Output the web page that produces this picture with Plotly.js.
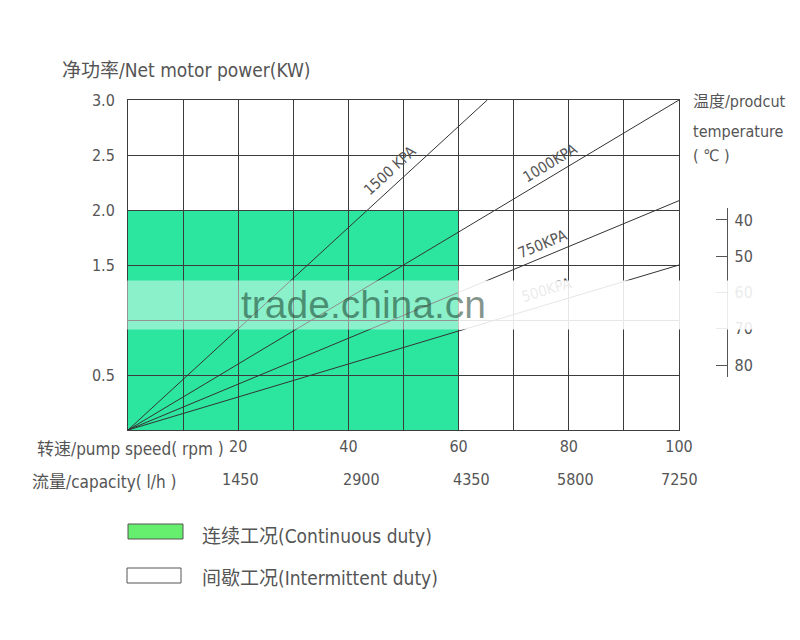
<!DOCTYPE html>
<html>
<head>
<meta charset="utf-8">
<script src="https://cdn.plot.ly/plotly-3.0.1.min.js"></script>
<style>html,body{margin:0;padding:0;background:#fff;}#chart{width:800px;height:640px;}</style>
</head>
<body>
<div id="chart"></div>
<script>
// ---- data ----
const speedTicks = [20, 40, 60, 80, 100];
const speedTickText = ['20', '40', '60', '80', '100'];
const capacityTickText = ['1450', '2900', '4350', '5800', '7250'];
const powerTicks = [0.5, 1.5, 2.0, 2.5, 3.0];
const powerTickText = ['0.5', '1.5', '2.0', '2.5', '3.0'];
const tempTicks = [40, 50, 60, 70, 80];
const tempAxisEnds = [36.7, 83.3];
const pressureLabels = ['1500 KPA', '1000KPA', '750KPA', '500KPA'];
const lineEndSpeed = [65.2, 100, 100, 100];
const lineEndPower = [3.0, 3.0, 2.085, 1.5];
const labelSpeed = [47.7, 76.6, 75.3, 76.0];
const labelPower = [2.36, 2.43, 1.69, 1.27];
const continuousSpeed = [0, 60];
const continuousPower = [0, 2.0];

// ---- style ----
const FONT = "'Liberation Sans Narrow', 'DejaVu Sans Condensed', 'Noto Sans CJK SC', sans-serif";
const TXT = '#555555';
const GRID = '#3c3c3c';
const W = 800, H = 640, ML = 128, MR = 60, MT = 100, MB = 210;
const plotW = W - ML - MR, plotH = H - MT - MB;
const xDomEnd = 551 / plotW;
const xRange = [0, 100], yRange = [0, 3];
const pxPerX = 551 / (xRange[1] - xRange[0]);
const pxPerY = plotH / (yRange[1] - yRange[0]);
const px = v => (v - ML) / plotW;          // pixel -> paper x
const py = v => (H - MB - v) / plotH;      // pixel -> paper y

const traces = [];
for (let i = 0; i < pressureLabels.length; i++) {
  traces.push({
    x: [0, lineEndSpeed[i]], y: [0, lineEndPower[i]],
    mode: 'lines', line: {color: '#333', width: 1},
    hoverinfo: 'skip', showlegend: false, xaxis: 'x', yaxis: 'y'
  });
}
// anchor trace for the temperature axis
traces.push({x: [50], y: [60], mode: 'markers', marker: {opacity: 0}, hoverinfo: 'skip',
  showlegend: false, xaxis: 'x', yaxis: 'y2'});

const annotations = [];
pressureLabels.forEach((t, i) => {
  const ang = -Math.atan((lineEndPower[i] / lineEndSpeed[i]) * pxPerY / pxPerX) * 180 / Math.PI;
  annotations.push({x: labelSpeed[i], y: labelPower[i], xref: 'x', yref: 'y', text: t,
    showarrow: false, textangle: ang, font: {family: FONT, size: 15, color: TXT}});
});
// capacity labels
const capShift = [2, 13, 13, 7, 0];
speedTicks.forEach((s, i) => {
  annotations.push({x: s, y: py(479), xref: 'x', yref: 'paper', text: capacityTickText[i],
    showarrow: false, xanchor: 'center', yanchor: 'middle', xshift: capShift[i],
    font: {family: FONT, size: 16, color: TXT}});
});
// titles
const tA = (text, x, y, size) => ({x: px(x), y: py(y), xref: 'paper', yref: 'paper', text,
  showarrow: false, xanchor: 'left', yanchor: 'middle', font: {family: FONT, size, color: TXT}});
annotations.push(tA('净功率/Net motor power(KW)', 60, 70, 19));
annotations.push(tA('转速/pump speed( rpm )', 35, 449, 17));
annotations.push(tA('流量/capacity( l/h )', 30, 482, 17));
annotations.push(tA('温度/prodcut', 691, 101, 16));
annotations.push(tA('temperature', 691, 131, 16));
annotations.push(tA('( ℃ )', 691, 155, 16));
annotations.push(tA('连续工况(Continuous duty)', 200, 536, 19));
annotations.push(tA('间歇工况(Intermittent duty)', 200, 578, 19));
// watermark band (left part over the green area, right part over white)
const band = (x0, x1, alpha) => ({x: px((x0 + x1) / 2), y: py(305), xref: 'paper', yref: 'paper',
  text: ' ', showarrow: false, xanchor: 'center', yanchor: 'middle',
  width: x1 - x0, height: 48, bgcolor: 'rgba(255,255,255,' + alpha + ')', borderpad: 0,
  font: {family: FONT, size: 10, color: 'rgba(0,0,0,0)'}});
annotations.push(band(118, 459, 0.45));
annotations.push(band(459, 766, 0.88));
annotations.push({x: px(363), y: py(304), xref: 'paper', yref: 'paper', text: 'trade.china.cn',
  showarrow: false, xanchor: 'center', yanchor: 'middle',
  font: {family: "'Liberation Sans', Arial, sans-serif", size: 39, color: 'rgba(10,45,25,0.5)'}});

const shapes = [
  {type: 'rect', xref: 'x', yref: 'y', x0: continuousSpeed[0], x1: continuousSpeed[1],
   y0: continuousPower[0], y1: continuousPower[1], fillcolor: '#2ce6a0', line: {width: 0}, layer: 'below'},
  {type: 'line', xref: 'paper', yref: 'y2', x0: px(727.5), x1: px(727.5),
   y0: tempAxisEnds[0], y1: tempAxisEnds[1], line: {color: '#555', width: 1}},
  {type: 'rect', xref: 'paper', yref: 'paper', x0: px(128), x1: px(183), y0: py(539), y1: py(524),
   fillcolor: '#66ee6e', line: {color: '#555', width: 1}},
  {type: 'rect', xref: 'paper', yref: 'paper', x0: px(127), x1: px(181), y0: py(583), y1: py(568),
   fillcolor: '#ffffff', line: {color: '#555', width: 1}}
];

const layout = {
  width: W, height: H,
  margin: {l: ML, r: MR, t: MT, b: MB, pad: 0},
  paper_bgcolor: '#fff', plot_bgcolor: '#fff',
  showlegend: false,
  xaxis: {domain: [0, xDomEnd], range: xRange, anchor: 'y', tickvals: speedTicks, ticktext: speedTickText,
    showgrid: true, gridcolor: GRID, gridwidth: 1, zeroline: false,
    minor: {dtick: 10, tick0: 0, showgrid: true, gridcolor: GRID, gridwidth: 1},
    showline: true, linecolor: GRID, linewidth: 1, mirror: true, ticks: '',
    ticklabelstandoff: 2, tickfont: {family: FONT, size: 16, color: TXT}, fixedrange: true},
  yaxis: {domain: [0, 1], range: yRange, anchor: 'x', tickvals: powerTicks, ticktext: powerTickText,
    showgrid: true, gridcolor: GRID, gridwidth: 1, zeroline: false,
    minor: {dtick: 0.5, tick0: 0, showgrid: true, gridcolor: GRID, gridwidth: 1},
    showline: true, linecolor: GRID, linewidth: 1, mirror: true, ticks: '',
    ticklabelstandoff: 9, tickfont: {family: FONT, size: 16, color: TXT}, fixedrange: true},
  yaxis2: {overlaying: 'y', range: [97.93, 6.90], anchor: 'free', position: px(727.5),
    side: 'right', tickvals: tempTicks, showgrid: false, zeroline: false,
    showline: false, ticks: 'inside', ticklen: 12, tickcolor: '#555',
    ticklabelstandoff: 6, tickfont: {family: FONT, size: 16, color: TXT}, fixedrange: true},
  shapes, annotations
};

Plotly.newPlot('chart', traces, layout, {displayModeBar: false, staticPlot: true});
</script>
</body>
</html>
